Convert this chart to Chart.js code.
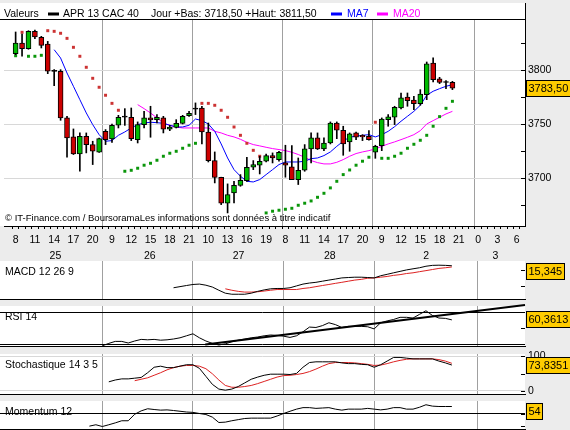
<!DOCTYPE html>
<html>
<head>
<meta charset="utf-8">
<title>APR 13 CAC 40</title>
<script src="https://cdn.jsdelivr.net/npm/chart.js@4.4.1/dist/chart.umd.min.js"></script>
<style>
  html, body { margin: 0; padding: 0; }
  body { width: 570px; height: 430px; background: #ececec; position: relative; overflow: hidden; }
  canvas { position: absolute; left: 0; }
</style>
</head>
<body>
<canvas id="cMain"></canvas>
<canvas id="cMacd"></canvas>
<canvas id="cRsi"></canvas>
<canvas id="cSto"></canvas>
<canvas id="cMom"></canvas>
<script>
// axe horaire : un créneau par heure, étiquette toutes les 3 heures
const hourLabels = ['8','11','14','17','20','9','12','15','18','21','10','13','16','19','8','11','14','17','20','9','12','15','18','21','0','3','6'];
const dayLabels = ['25','26','27','28','2','3'];
const dayLabelSlots = [6.2, 20.9, 34.7, 48.9, 63.9, 74.7];
const dayBreaks = [14, 28, 42, 56, 72];

// bougies horaires
const opens  = [3815.4,3825.3,3820.1,3836.1,3830.6,3824.4,3800.0,3799.1,3755.9,3738.3,3722.5,3738.9,3731.2,3724.1,3743.5,3736.4,3749.1,3756.5,3756.5,3735.8,3749.7,3755.9,3754.3,3755.9,3745.4,3747.2,3750.9,3758.0,3764.0,3765.1,3742.9,3716.4,3700.9,3676.9,3686.4,3693.5,3697.9,3710.2,3712.1,3715.8,3721.0,3717.3,3714.2,3710.5,3698.8,3707.4,3727.2,3737.4,3727.2,3732.7,3751.2,3744.5,3733.7,3742.0,3739.8,3738.9,3724.1,3730.3,3754.3,3756.5,3765.1,3775.3,3772.5,3769.1,3777.5,3806.8,3792.0,3789.6,3788.9];
const highs  = [3835.5,3833.6,3836.7,3837.3,3831.5,3826.8,3800.6,3800.6,3757.4,3745.7,3742.0,3742.0,3734.3,3737.3,3745.1,3750.3,3758.3,3764.5,3765.1,3752.2,3762.0,3766.7,3759.0,3757.4,3749.0,3754.3,3758.3,3762.0,3769.8,3766.7,3751.2,3724.4,3701.0,3694.8,3697.2,3703.4,3719.5,3716.4,3720.4,3722.5,3723.5,3725.0,3730.6,3730.3,3718.8,3731.2,3742.0,3742.0,3737.4,3752.2,3752.2,3748.2,3742.0,3742.9,3740.4,3744.1,3730.6,3755.9,3759.0,3766.7,3779.0,3779.0,3775.9,3782.1,3807.7,3811.5,3793.5,3790.4,3789.8];
const lows   = [3814.5,3813.0,3819.5,3829.3,3820.7,3796.9,3785.8,3753.7,3719.5,3722.0,3706.5,3723.5,3712.7,3724.0,3731.2,3733.3,3746.6,3749.0,3734.9,3732.7,3746.6,3738.0,3751.2,3742.0,3744.1,3746.6,3750.3,3757.4,3759.0,3731.8,3715.1,3695.7,3675.6,3667.9,3677.2,3692.6,3697.2,3708.0,3704.0,3715.1,3714.2,3715.8,3701.0,3698.8,3694.2,3706.5,3714.2,3726.6,3725.6,3731.8,3736.7,3721.3,3725.0,3735.8,3734.9,3735.2,3718.5,3725.6,3748.2,3749.7,3764.2,3766.7,3763.6,3767.6,3772.8,3789.2,3787.7,3783.0,3782.1];
const closes = [3825.3,3820.1,3836.1,3830.9,3823.1,3799.1,3799.0,3755.9,3737.4,3722.5,3738.9,3731.2,3725.0,3736.7,3735.8,3749.1,3756.5,3757.5,3736.7,3749.7,3755.9,3754.0,3756.5,3745.4,3747.5,3750.9,3757.4,3760.2,3765.0,3742.9,3716.4,3700.9,3676.9,3684.9,3693.5,3698.2,3710.2,3712.7,3715.8,3721.0,3718.8,3724.1,3712.1,3698.8,3707.4,3727.2,3737.4,3727.2,3732.7,3751.2,3744.5,3731.8,3741.1,3738.0,3738.4,3735.8,3729.6,3754.9,3756.8,3765.7,3774.4,3771.9,3769.1,3778.1,3805.9,3791.4,3788.9,3788.8,3783.5];

// SAR parabolique
const sar = [3813.5,3835.2,3813.0,3813.0,3813.9,3836.7,3836.1,3834.3,3829.6,3821.3,3813.0,3802.8,3792.6,3784.3,3776.9,3769.4,3763.0,3706.5,3707.4,3709.3,3712.1,3713.9,3716.7,3720.4,3723.2,3725.0,3727.8,3730.6,3732.4,3769.4,3769.4,3767.6,3763.0,3756.5,3747.5,3739.8,3732.4,3725.9,3720.4,3667.9,3669.5,3670.4,3671.3,3672.2,3675.0,3676.9,3679.0,3682.4,3686.1,3691.1,3697.2,3703.4,3707.7,3712.1,3715.8,3719.5,3751.9,3718.5,3718.5,3720.4,3723.2,3727.8,3731.5,3735.2,3739.8,3748.2,3757.1,3764.8,3771.3];

// moyennes mobiles
const ma7Start = 6;
const ma7 = [3819.1,3811.4,3797.5,3785.2,3772.8,3760.5,3749.7,3740.4,3734.3,3734.9,3739.8,3742.9,3746.6,3749.7,3751.2,3751.9,3751.5,3750.9,3749.1,3747.5,3747.5,3749.1,3754.9,3753.4,3750.3,3743.5,3731.8,3718.8,3708.0,3701.9,3697.2,3696.6,3698.8,3703.4,3708.0,3712.7,3715.1,3715.1,3715.1,3715.8,3718.2,3718.8,3721.0,3724.4,3729.6,3734.3,3738.2,3738.9,3739.8,3740.4,3738.3,3740.4,3743.5,3747.8,3752.8,3757.4,3762.0,3767.6,3776.9,3780.6,3783.0,3785.2,3786.7];
const ma20Start = 19;
const ma20 = [3768.2,3764.5,3760.5,3755.9,3751.2,3749.1,3747.5,3746.6,3746.6,3746.6,3746.6,3746.6,3743.5,3742.0,3739.8,3738.3,3736.1,3733.3,3731.2,3730.0,3728.7,3727.5,3726.6,3725.6,3724.1,3722.0,3719.5,3716.4,3714.5,3713.3,3713.3,3714.8,3717.3,3720.4,3722.9,3724.4,3725.6,3727.2,3729.6,3731.8,3733.7,3735.8,3738.0,3740.4,3744.1,3750.3,3753.4,3756.5,3759.6,3762.0];
const priceTicks = [3825, 3800, 3775, 3750, 3725, 3700, 3675];

// MACD 12 26 9
const macdStart = 25;
const macd = [-12.2,-10.8,-9.4,-8.1,-7.6,-9,-11.3,-15.3,-19,-20.3,-20.3,-20.3,-19,-16.7,-14.9,-13.5,-13.1,-13.1,-12.2,-9.9,-7.6,-6.3,-5.4,-4,-2.6,-1.3,0.1,0.6,1,1,0.6,0.1,2.8,4.6,6.5,8.3,10.1,11.5,12.8,14.7,15.8,16,15.8,15.3];
const signalStart = 33;
const signal = [-13.5,-15.3,-16.7,-17.6,-17.6,-17.2,-16.3,-15.3,-14.4,-14.4,-14.4,-14.4,-13.1,-12.2,-10.8,-9.4,-8.1,-6.7,-5.4,-4,-2.6,-1.7,-0.3,0.1,1,1.9,3.3,4.2,5.6,6.5,7.9,9.2,10.6,12,12.8,13.8];

// RSI 14 + oblique de support
const rsiStart = 14;
const rsi = [28,31,33.5,33.5,31.5,34,36,35.5,36,35,35.5,36.5,38,40.5,43,38,34,31,29,30.5,33,35,36.5,38,39,40.5,41.5,41,40,38.5,40.5,45.5,51.4,50.9,53.2,56.8,54.5,50.9,52.3,52.3,52.3,51.8,49.1,56.8,59.1,60.9,63.6,63.6,62.7,67.3,71.8,65.9,62.7,62.3,60.4];
const rsiTrendX = [29.9, 79.3];
const rsiTrendY = [29.75, 78.9];

// Stochastique 14 3 5
const stoKStart = 15;
const stoK = [26.5,31.8,35,35,37,39.1,52.8,68.6,71.7,67.5,67.5,71.7,75.9,75.9,65.4,42.3,19.2,5.5,2.4,5.5,12.9,23.4,33.9,40.2,45.4,48.6,48.6,48.6,47.6,50.7,68.6,82.2,84.3,84.3,84.3,84.3,81.2,79.1,79.1,77,75.9,68.6,75.9,86.4,97,97,94.9,92.8,92.8,92.8,92.8,86.4,81.2,75];
const stoDStart = 19;
const stoD = [29.7,33.9,38.1,45.4,52.8,61.2,67.5,71.7,73.8,73.8,71.7,64.4,49.7,31.8,16,10.8,10.8,12.9,16,21.3,27.6,33.9,40.2,44.4,45.4,47.6,50.7,56,63.3,71.7,79.1,82.2,82.2,82.2,81.2,79.1,77,73.8,74.9,79.1,84.3,88.5,91.7,92.8,92.8,92.8,92.8,90.7,86.4,80];

// Momentum 12
const momStart = 12;
const momentum = [-101,-90,-104,-90,-75,-58,-58,-6,21,38,32,27,29,24,18,12,9,0,-8,-29,-72,-69,-58,-49,-40,-37,-37,-37,-37,-20,0,18,35,47,47,41,44,47,35,27,35,35,35,41,35,29,35,47,47,35,35,50,70,59,56,56,56];

// dernières valeurs affichées dans les cartouches
const lastPrice = 3783.50, lastMacd = 15.345, lastRsi = 60.3613, lastSto = 73.8351, lastMom = 54;

const X_MIN = -1.81, X_MAX = 79.3;
const FAMILY = '"Liberation Sans", Arial, sans-serif';
const TXT = '10.5px ' + FAMILY;
const SMALLTXT = '9.5px ' + FAMILY;
const BOXTXT = '11px ' + FAMILY;
const GREEN = '#00bb00', RED = '#cc0000';
const NONE = 'rgba(0,0,0,0)';

const pts = (arr, start) => arr.map((v, k) => ({ x: start + k, y: v }));
const comma = (v, d) => v.toFixed(d).replace('.', ',');
const tickVal = c => (c && c.tick) ? c.tick.value : null;

function setCanvas(id, top, h) {
  const c = document.getElementById(id);
  c.width = 570; c.height = h;
  c.style.width = '570px'; c.style.height = h + 'px'; c.style.top = top + 'px';
  return c;
}

// fond blanc, petites graduations internes, titre et cartouche jaune
const chrome = {
  id: 'chrome',
  beforeDraw(chart, args, o) {
    const { ctx, chartArea: a } = chart;
    const top = o.whiteTop != null ? o.whiteTop : a.top;
    ctx.save();
    ctx.fillStyle = '#fff';
    ctx.fillRect(0, top, a.right, a.bottom - top);
    ctx.restore();
  },
  afterDraw(chart, args, o) {
    const { ctx, chartArea: a } = chart;
    const ys = chart.scales.y;
    ctx.save();
    ctx.fillStyle = '#000';
    ys.ticks.forEach(t => {
      const py = Math.round(ys.getPixelForValue(t.value));
      ctx.fillRect(a.right - 4, py, 4, 1);
    });
    ctx.font = TXT;
    ctx.textBaseline = 'middle';
    ctx.textAlign = 'left';
    if (o.title) ctx.fillText(o.title, 5, a.top + 11.5);
    if (o.boxText) {
      ctx.font = BOXTXT;
      const w = Math.round(ctx.measureText(o.boxText).width + 5);
      let bt = Math.round(ys.getPixelForValue(o.boxValue) - 8.5);
      bt = Math.max(bt, Math.round(a.top + 2));
      ctx.fillStyle = '#ffcc00';
      ctx.fillRect(a.right + 1, bt, w, 17);
      ctx.strokeStyle = '#000';
      ctx.lineWidth = 1;
      ctx.strokeRect(a.right + 1.5, bt + 0.5, w - 1, 16);
      ctx.fillStyle = '#000';
      ctx.fillText(o.boxText, a.right + 3.5, bt + 9);
    }
    ctx.restore();
  }
};

// en-tête, bordure haute et mention de source du graphique principal
const mainDeco = {
  id: 'mainDeco',
  afterDraw(chart) {
    const { ctx, chartArea: a } = chart;
    ctx.save();
    ctx.fillStyle = '#000';
    ctx.fillRect(0, a.top - 1, a.right, 1);
    ctx.fillRect(a.right, 3, 1, a.top - 3);
    ctx.font = TXT;
    ctx.textBaseline = 'middle';
    ctx.fillText('Valeurs', 4, 14);
    ctx.fillRect(48, 12.5, 11, 3);
    ctx.fillText('APR 13 CAC 40', 63, 14);
    ctx.fillText('Jour +Bas: 3718,50 +Haut: 3811,50', 151, 14);
    ctx.fillStyle = '#0000ff';
    ctx.fillRect(331, 12.5, 11, 3);
    ctx.fillText('MA7', 347, 14);
    ctx.fillStyle = '#ff00ff';
    ctx.fillRect(377, 12.5, 11, 3);
    ctx.fillText('MA20', 393, 14);
    ctx.fillStyle = '#000';
    ctx.font = SMALLTXT;
    ctx.fillText('\u00a9 IT-Finance.com / BoursoramaLes informations sont donn\u00e9es \u00e0 titre indicatif', 5, 218);
    ctx.restore();
  }
};

const slots = Array.from({ length: 79 }, (_, i) => i);

// ---------- graphique principal ----------
setCanvas('cMain', 0, 262);
new Chart(document.getElementById('cMain'), {
  type: 'bar',
  data: {
    datasets: [
      {
        type: 'bar', grouped: false, barThickness: 5, borderWidth: 1, borderColor: '#000', borderSkipped: false,
        data: closes.map((c, i) => ({ x: i, y: [opens[i], c] })),
        backgroundColor: closes.map((c, i) => Math.abs(c - opens[i]) <= 1 ? '#000' : (c > opens[i] ? GREEN : RED))
      },
      {
        type: 'bar', grouped: false, barThickness: 1, borderWidth: 0, backgroundColor: '#000',
        data: highs.map((h, i) => ({ x: i, y: [lows[i], h] }))
      },
      {
        type: 'line', showLine: false, pointStyle: 'rect', pointRadius: 2.1, pointBorderWidth: 0,
        pointBackgroundColor: sar.map((s, i) => s > closes[i] ? '#cc3333' : '#0a960a'),
        data: pts(sar, 0)
      },
      { type: 'line', data: pts(ma7, ma7Start), borderColor: '#0000ff', borderWidth: 1, pointRadius: 0, tension: 0 },
      { type: 'line', data: pts(ma20, ma20Start), borderColor: '#ff00ff', borderWidth: 1, pointRadius: 0, tension: 0 }
    ]
  },
  options: {
    responsive: false, animation: false, events: [],
    layout: { padding: { top: 20, left: 0, right: 0, bottom: 0 } },
    plugins: {
      legend: { display: false }, tooltip: { enabled: false },
      chrome: { whiteTop: 3, boxText: comma(lastPrice, 2), boxValue: lastPrice }
    },
    scales: {
      x: {
        type: 'linear', min: X_MIN, max: X_MAX, offset: false, position: 'bottom', weight: 0,
        afterBuildTicks: ax => { ax.ticks = slots.map(v => ({ value: v })); },
        afterFit: ax => { ax.height = 22; },
        grid: {
          color: c => dayBreaks.includes(tickVal(c)) ? '#a0a0a0' : NONE,
          lineWidth: 1, drawTicks: true, tickLength: 3, tickColor: '#000'
        },
        border: { display: true, color: '#000', width: 1 },
        ticks: {
          autoSkip: false, maxRotation: 0, padding: 5, color: '#000', font: { family: FAMILY, size: 10.5 },
          callback: v => v % 3 === 0 ? hourLabels[v / 3] : ''
        }
      },
      xDay: {
        type: 'linear', min: X_MIN, max: X_MAX, offset: false, position: 'bottom', weight: 1,
        afterBuildTicks: ax => { ax.ticks = dayLabelSlots.map(v => ({ value: v })); },
        afterFit: ax => { ax.height = 14; },
        grid: { display: false, drawTicks: false },
        border: { display: false },
        ticks: {
          autoSkip: false, maxRotation: 0, padding: 2, color: '#000', font: { family: FAMILY, size: 10.5 },
          callback: (v, i) => dayLabels[i]
        }
      },
      y: {
        type: 'linear', position: 'right', min: 3655.8, max: 3846.6,
        afterBuildTicks: ax => { ax.ticks = priceTicks.map(v => ({ value: v })); },
        afterFit: ax => { ax.width = 45; },
        grid: { color: c => tickVal(c) !== null && tickVal(c) % 50 === 0 ? '#d8d8d8' : NONE, drawTicks: false },
        border: { display: true, color: '#000', width: 1 },
        ticks: {
          padding: 3, color: '#000', font: { family: FAMILY, size: 10.5 },
          callback: v => v % 50 === 0 ? String(v) : ''
        }
      }
    }
  },
  plugins: [chrome, mainDeco]
});

// ---------- panneaux d'indicateurs ----------
function makePanel(id, whiteTop, whiteH, cfg) {
  const pad = 10;
  setCanvas(id, whiteTop - pad, whiteH + 2 * pad);
  const lineCol = c => {
    const v = tickVal(c);
    return cfg.black.includes(v) ? '#000' : (cfg.gray.includes(v) ? '#d8d8d8' : NONE);
  };
  return new Chart(document.getElementById(id), {
    type: 'line',
    data: { datasets: cfg.datasets },
    options: {
      responsive: false, animation: false, events: [],
      layout: { padding: { top: pad, bottom: pad, left: 0, right: 0 } },
      plugins: {
        legend: { display: false }, tooltip: { enabled: false },
        chrome: { title: cfg.title, boxText: cfg.boxText, boxValue: cfg.boxValue }
      },
      elements: { point: { radius: 0 }, line: { borderWidth: 1, tension: 0 } },
      scales: {
        x: {
          type: 'linear', min: X_MIN, max: X_MAX, offset: false, position: 'bottom',
          afterBuildTicks: ax => { ax.ticks = dayBreaks.map(v => ({ value: v })); },
          afterFit: ax => { ax.height = 0; },
          grid: { color: '#a0a0a0', drawTicks: false },
          border: { display: true, color: '#000', width: 1 },
          ticks: { display: false }
        },
        y: {
          type: 'linear', position: 'right', min: cfg.min, max: cfg.max,
          afterBuildTicks: ax => { ax.ticks = cfg.ticks.map(v => ({ value: v })); },
          afterFit: ax => { ax.width = 45; },
          grid: { color: lineCol, drawTicks: false },
          border: { display: false },
          ticks: {
            padding: 3, color: '#000', font: { family: FAMILY, size: 10.5 },
            callback: (v, i) => cfg.labels[i]
          }
        }
      }
    },
    plugins: [chrome]
  });
}

makePanel('cMacd', 261, 38, {
  title: 'MACD 12 26 9', min: -26.25, max: 21.25,
  ticks: [10, 0, -10, -20], labels: ['', '', '', '-20'], black: [0], gray: [-20],
  boxText: comma(lastMacd, 3), boxValue: lastMacd,
  datasets: [
    { data: pts(macd, macdStart), borderColor: '#000' },
    { data: pts(signal, signalStart), borderColor: '#dd2222' }
  ]
});

makePanel('cRsi', 306, 40, {
  title: 'RSI 14', min: 27.75, max: 77.75,
  ticks: [70, 60, 50, 40, 30], labels: ['', '', '', '40', ''], black: [70, 30], gray: [60, 40],
  boxText: comma(lastRsi, 4), boxValue: lastRsi,
  datasets: [
    { data: pts(rsi, rsiStart), borderColor: '#000' },
    {
      data: rsiTrendX.map((x, k) => ({ x, y: rsiTrendY[k] })), borderColor: '#000', borderWidth: 2,
      clip: { left: 0, top: false, right: false, bottom: 0 }
    }
  ]
});

makePanel('cSto', 354, 40, {
  title: 'Stochastique 14 3 5', min: -8.7, max: 106.9,
  ticks: [100, 75, 50, 25, 0], labels: ['100', '', '', '', '0'], black: [75, 25], gray: [100, 0],
  boxText: comma(lastSto, 4), boxValue: lastSto,
  datasets: [
    { data: pts(stoK, stoKStart), borderColor: '#000' },
    { data: pts(stoD, stoDStart), borderColor: '#dd2222' }
  ]
});

makePanel('cMom', 401, 28, {
  title: 'Momentum 12', min: -124, max: 100,
  ticks: [0, -100], labels: ['', ''], black: [0], gray: [],
  boxText: String(lastMom), boxValue: lastMom,
  datasets: [
    { data: pts(momentum, momStart), borderColor: '#000' }
  ]
});
</script>
</body>
</html>
